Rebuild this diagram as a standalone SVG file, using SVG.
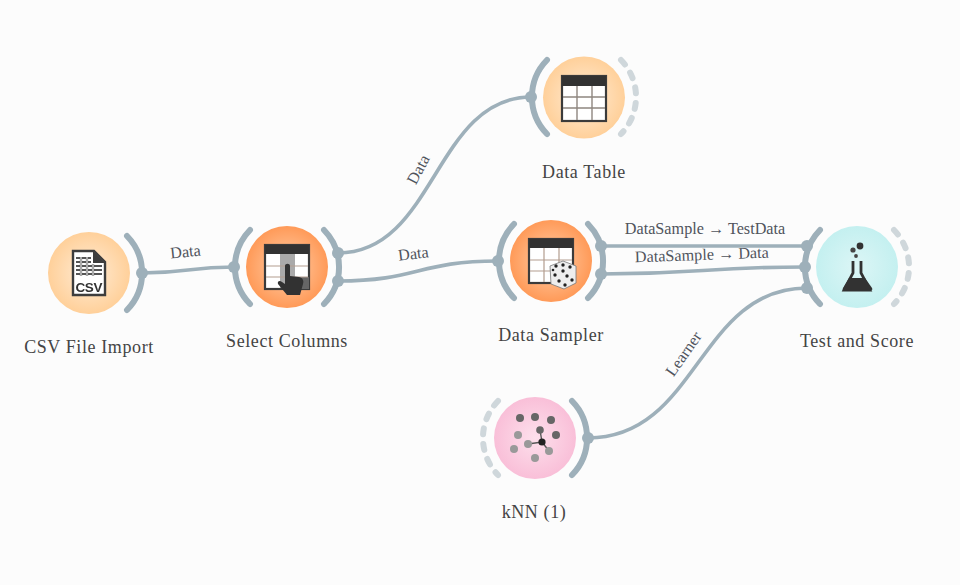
<svg xmlns="http://www.w3.org/2000/svg" width="960" height="585" viewBox="0 0 960 585">
<style>
.lbl{font-family:"Liberation Serif","Noto Serif",serif;font-size:18px;fill:#444;text-anchor:middle;letter-spacing:.6px}
.edge{font-family:"Liberation Serif",serif;font-size:16.2px;fill:#50545c;text-anchor:middle}
.conn{fill:none;stroke:#9eb0ba;stroke-width:3.6}
.arc{fill:none;stroke:#9eb0ba;stroke-width:6;stroke-linecap:round}
.dash{fill:none;stroke:#cfd7db;stroke-width:6;stroke-linecap:round;stroke-dasharray:6 9.6}
.port{fill:#9eb0ba}
.ic{filter:url(#soft)}
</style>
<defs>
<filter id="soft" x="-10%" y="-10%" width="120%" height="120%"><feGaussianBlur stdDeviation="0.7"/></filter>
<radialGradient id="gO"><stop offset="0" stop-color="#ffecd6"/><stop offset="1" stop-color="#ffd09a"/></radialGradient>
<radialGradient id="gS"><stop offset="0" stop-color="#ffcfaa"/><stop offset="1" stop-color="#ff9a58"/></radialGradient>
<radialGradient id="gT"><stop offset="0" stop-color="#dcf6f6"/><stop offset="1" stop-color="#c4f0f0"/></radialGradient>
<radialGradient id="gK"><stop offset="0" stop-color="#fde0ec"/><stop offset="1" stop-color="#f9bfd8"/></radialGradient>
</defs>
<rect width="960" height="585" fill="#fcfcfc"/>
<g id="connectors">
<path class="conn" d="M142,273 C188,273 188,267 234,267"/>
<path class="conn" d="M338,253 C435,253 435,97 531,97"/>
<path class="conn" d="M338,281 C418,281 418,261 498,261"/>
<path class="conn" d="M601,246 C704,246 704,246 807,246"/>
<path class="conn" d="M601,274 C703,274 703,267 805,267"/>
<path class="conn" d="M588,438 C698,438 698,288 807,288"/>
<text class="edge" transform="translate(186,257) rotate(-6)">Data</text>
<text class="edge" transform="translate(423,172) rotate(-62)">Data</text>
<text class="edge" transform="translate(414,259) rotate(-7)">Data</text>
<text class="edge" x="705" y="234">DataSample → TestData</text>
<text class="edge" transform="translate(702,260) rotate(-2)">DataSample → Data</text>
<text class="edge" transform="translate(688,357) rotate(-55)">Learner</text>
</g>
<g id="node-csv">
<circle cx="89" cy="273" r="41" fill="url(#gO)"/>
<path class="arc" d="M127,236 A53,53 0 0 1 127,310"/>
<circle class="port" cx="142" cy="273" r="6"/>
<g class="ic">
<path d="M73,251 H94 L105,262 V295 H73 Z" fill="#fff" stroke="#3c3c3c" stroke-width="2.4"/>
<path d="M93,251 V263 H105 Z" fill="#3c3c3c"/>
<path d="M76,258 H91 M76,262 H91 M76,266 H102 M76,270 H102 M76,274 H102 M81,257 V276 M87,257 V276 M93,264 V276" stroke="#555" stroke-width="2.2" fill="none"/>
<path d="M81,257 V276 M87,257 V276 M93,264 V276" stroke="#fff" stroke-width="1" fill="none"/>
<text x="89" y="292" font-family="Liberation Sans,sans-serif" font-weight="bold" font-size="13.5" fill="#333" text-anchor="middle" textLength="27">CSV</text>
</g>
<text class="lbl" x="89" y="353">CSV File Import</text>
</g>
<g id="node-select">
<circle cx="287" cy="267" r="41" fill="url(#gS)"/>
<path class="arc" d="M250,230 A53,53 0 0 0 250,304"/>
<path class="arc" d="M324,230 A53,53 0 0 1 324,304"/>
<circle class="port" cx="234" cy="267" r="6"/>
<circle class="port" cx="338" cy="253" r="6"/>
<circle class="port" cx="338" cy="281" r="6"/>
<g class="ic">
<rect x="265" y="245" width="44" height="44" fill="#fff" stroke="#3a3a3a" stroke-width="2.2"/>
<rect x="265" y="245" width="44" height="9" fill="#333"/>
<rect x="280" y="254" width="15" height="34" fill="#aaa"/>
<rect x="295" y="277" width="14" height="12" fill="#666"/>
<path d="M266,266 H308 M266,277 H308" stroke="#b39d8f" stroke-width="1.2"/>
<path d="M285,266 C285,263 290,263 290,266 V276 L299,277 C303,278 304,281 303,284 L300,295 H287 L278,284 C277,281 280,280 282,282 L285,284 Z" fill="#333"/>
</g>
<text class="lbl" x="287" y="347">Select Columns</text>
</g>
<g id="node-table">
<circle cx="584" cy="97.5" r="41" fill="url(#gO)"/>
<path class="arc" d="M547,60 A53,53 0 0 0 547,134"/>
<path class="dash" d="M621,60 A53,53 0 0 1 621,134"/>
<circle class="port" cx="531" cy="97" r="6"/>
<g class="ic">
<rect x="562" y="76" width="44" height="45" fill="#fff" stroke="#3a3a3a" stroke-width="2.2"/>
<rect x="562" y="76" width="44" height="10" fill="#333"/>
<path d="M577,86 V120 M592,86 V120 M563,97 H605 M563,108 H605" stroke="#8f8780" stroke-width="1.4"/>
</g>
<text class="lbl" x="584" y="178">Data Table</text>
</g>
<g id="node-sampler">
<circle cx="551" cy="261" r="41" fill="url(#gS)"/>
<path class="arc" d="M514,224 A53,53 0 0 0 514,298"/>
<path class="arc" d="M588,224 A53,53 0 0 1 588,298"/>
<circle class="port" cx="498" cy="261" r="6"/>
<circle class="port" cx="601" cy="246" r="6"/>
<circle class="port" cx="601" cy="274" r="6"/>
<g class="ic">
<rect x="529" y="239" width="44" height="44" fill="#fff" stroke="#3a3a3a" stroke-width="2.2"/>
<rect x="529" y="239" width="44" height="9" fill="#333"/>
<path d="M544,248 V282 M559,248 V282 M530,260 H572 M530,271 H572" stroke="#b39d8f" stroke-width="1.2"/>
<path d="M550,266 L563,261 L576,266 L576,283 L564,289 L551,284 Z" fill="#eee" stroke="#777" stroke-width="0.8"/>
<g fill="#222"><circle cx="563" cy="265" r="1.7"/><circle cx="556" cy="266" r="1.7"/><circle cx="570" cy="267" r="1.7"/><circle cx="555" cy="275" r="1.7"/><circle cx="559" cy="281" r="1.7"/><circle cx="563" cy="271" r="1.7"/><circle cx="567" cy="276" r="1.7"/><circle cx="572" cy="280" r="1.7"/><circle cx="565" cy="285" r="1.7"/><circle cx="553" cy="270" r="1.3"/></g>
</g>
<text class="lbl" x="551" y="341">Data Sampler</text>
</g>
<g id="node-score">
<circle cx="857" cy="267" r="41" fill="url(#gT)"/>
<path class="arc" d="M820,230 A53,53 0 0 0 820,304"/>
<path class="dash" d="M894,230 A53,53 0 0 1 894,304"/>
<circle class="port" cx="807" cy="246" r="6"/>
<circle class="port" cx="805" cy="267" r="6"/>
<circle class="port" cx="807" cy="288" r="6"/>
<g class="ic">
<path d="M853,261 V273 L844,290 H870 L861,273 V261" fill="none" stroke="#333" stroke-width="2.8"/>
<path d="M849,278 H865 L872,288 C873,290 872,290 870,290 H845 C843,290 842,290 843,288 Z" fill="#333"/>
<circle cx="860" cy="246" r="3.4" fill="#333"/><circle cx="853" cy="250" r="2.6" fill="#444"/><circle cx="856" cy="256" r="1.9" fill="#444"/>
</g>
<text class="lbl" x="857" y="347">Test and Score</text>
</g>
<g id="node-knn">
<circle cx="535" cy="438" r="41" fill="url(#gK)"/>
<path class="dash" d="M498,401 A53,53 0 0 0 498,475"/>
<path class="arc" d="M572,401 A53,53 0 0 1 572,475"/>
<circle class="port" cx="588" cy="438" r="6"/>
<g class="ic">
<path d="M528,444 L542,442 L549,451 M542,442 L540,430" stroke="#555" stroke-width="1.4" fill="none"/>
<g fill="#666"><circle cx="520" cy="418" r="4"/><circle cx="535" cy="417" r="4"/><circle cx="551" cy="420" r="4"/><circle cx="556" cy="435" r="4"/><circle cx="540" cy="430" r="3.8"/></g>
<g fill="#999"><circle cx="518" cy="435" r="4"/><circle cx="514" cy="449" r="4"/><circle cx="528" cy="444" r="4"/><circle cx="549" cy="451" r="4"/><circle cx="535" cy="458" r="4"/></g>
<circle cx="542" cy="442" r="3.6" fill="#222"/>
</g>
<text class="lbl" x="534" y="518">kNN (1)</text>
</g>
</svg>
